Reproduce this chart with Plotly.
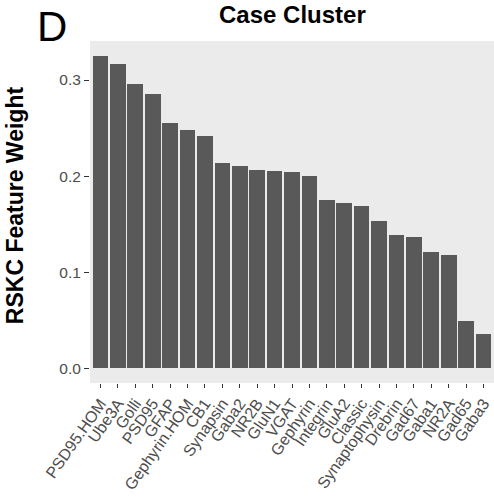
import plotly.graph_objects as go

features = ["PSD95.HOM", "Ube3A", "Golli", "PSD95", "GFAP", "Gephyrin.HOM", "CB1",
            "Synapsin", "Gaba2", "NR2B", "GluN1", "VGAT", "Gephyrin", "Integrin",
            "GluA2", "Classic", "Synaptophysin", "Drebrin", "Gad67", "Gaba1",
            "NR2A", "Gad65", "Gaba3"]
weights = [0.325, 0.317, 0.2955, 0.2854, 0.2549, 0.2479, 0.2420,
           0.2132, 0.2101, 0.2063, 0.2049, 0.2046, 0.2000, 0.1753,
           0.1719, 0.1684, 0.1530, 0.1390, 0.1368, 0.1210,
           0.1184, 0.0497, 0.0354]
y_ticks = [0.0, 0.1, 0.2, 0.3]
y_tick_text = ["0.0", "0.1", "0.2", "0.3"]

FONT = "Liberation Sans, Arial, sans-serif"

fig = go.Figure(go.Bar(
    x=features, y=weights, width=0.9,
    marker=dict(color="#595959", line=dict(width=0)),
))

fig.update_layout(
    width=494, height=497,
    margin=dict(l=90, r=0, t=41, b=114, pad=0),
    paper_bgcolor="white", plot_bgcolor="#EBEBEB",
    font=dict(family=FONT, color="#4D4D4D", size=15),
    showlegend=False,
    bargap=0,
)
fig.update_xaxes(
    type="category", range=[-0.6, len(features) - 0.4], automargin=False,
    tickmode="array", tickvals=features, ticktext=features,
    showgrid=False, zeroline=False, showline=False,
    ticks="outside", ticklen=4, tickwidth=1, tickcolor="#333333",
    tickangle=-55, tickfont=dict(size=16, color="#4D4D4D", family=FONT),
)
fig.update_yaxes(
    range=[-0.0153, 0.3406], automargin=False,
    tickvals=y_ticks, ticktext=y_tick_text,
    showgrid=False, zeroline=False, showline=False,
    ticks="outside", ticklen=5, tickwidth=1, tickcolor="#333333",
    tickfont=dict(size=15.5, color="#4D4D4D", family=FONT),
)

fig.add_annotation(text="<b>Case Cluster</b>", xref="paper", yref="paper",
                   x=0.5, y=1 + 41 / 342, xanchor="center", yanchor="top",
                   borderpad=0,
                   showarrow=False, font=dict(size=24, color="black", family=FONT))
fig.add_annotation(text="D", xref="paper", yref="paper",
                   x=-0.094, y=1.041, xanchor="center", yanchor="middle",
                   showarrow=False, font=dict(size=42, color="black", family=FONT))
fig.add_annotation(text="<b>RSKC Feature Weight</b>", xref="paper", yref="paper",
                   x=-0.1856, y=0.52, xanchor="center", yanchor="middle",
                   textangle=-90, showarrow=False,
                   font=dict(size=23, color="black", family=FONT))

fig.write_html("out.html")
